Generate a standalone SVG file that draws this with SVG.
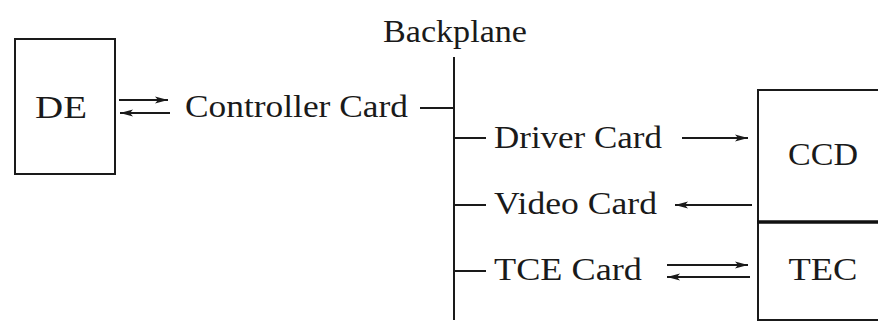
<svg xmlns="http://www.w3.org/2000/svg" width="878" height="323" viewBox="0 0 878 323">
<style>
text{font-family:"Liberation Serif","Times New Roman",serif;font-size:31px;fill:#1a1a1a}
.ln{stroke:#1a1a1a;stroke-width:2;fill:none}
.bx{stroke:#1a1a1a;stroke-width:2;fill:#fff}
</style>
<defs>
<marker id="ah" markerWidth="14" markerHeight="10" refX="13" refY="5" orient="auto" markerUnits="userSpaceOnUse">
<path d="M0,1.5 L13,5 L0,8.5 L3,5 Z" fill="#1a1a1a"/>
</marker>
</defs>
<rect width="878" height="323" fill="#fff"/>
<g id="DE">
<rect class="bx" x="15" y="39" width="100" height="135"/>
<text x="61" y="118" text-anchor="middle" textLength="52" lengthAdjust="spacingAndGlyphs">DE</text>
</g>
<g id="controller">
<text x="185" y="117" textLength="223" lengthAdjust="spacingAndGlyphs">Controller Card</text>
</g>
<g id="backplane">
<text x="383" y="42" textLength="144" lengthAdjust="spacingAndGlyphs">Backplane</text>
<line class="ln" x1="454" y1="57" x2="454" y2="320"/>
</g>
<g id="driver">
<text x="494" y="148" textLength="168" lengthAdjust="spacingAndGlyphs">Driver Card</text>
</g>
<g id="video">
<text x="494" y="214" textLength="163" lengthAdjust="spacingAndGlyphs">Video Card</text>
</g>
<g id="tce">
<text x="494" y="280" textLength="148" lengthAdjust="spacingAndGlyphs">TCE Card</text>
</g>
<g id="CCD">
<rect class="bx" x="758" y="90" width="140" height="132"/>
<text x="823" y="165" text-anchor="middle" textLength="70" lengthAdjust="spacingAndGlyphs">CCD</text>
</g>
<g id="TEC">
<rect class="bx" x="758" y="222" width="140" height="98"/>
<line x1="757" y1="222" x2="878" y2="222" stroke="#111" stroke-width="3.5"/>
<text x="823" y="280" text-anchor="middle" textLength="69" lengthAdjust="spacingAndGlyphs">TEC</text>
</g>
<g id="connectors">
<line class="ln" x1="119" y1="100" x2="168" y2="100" marker-end="url(#ah)"/>
<line class="ln" x1="170" y1="113" x2="120" y2="113" marker-end="url(#ah)"/>
<line class="ln" x1="420" y1="108" x2="454" y2="108"/>
<line class="ln" x1="454" y1="138" x2="486" y2="138"/>
<line class="ln" x1="454" y1="205" x2="486" y2="205"/>
<line class="ln" x1="454" y1="271" x2="486" y2="271"/>
<line class="ln" x1="682" y1="138" x2="748" y2="138" marker-end="url(#ah)"/>
<line class="ln" x1="752" y1="205" x2="675" y2="205" marker-end="url(#ah)"/>
<line class="ln" x1="667" y1="265" x2="748" y2="265" marker-end="url(#ah)"/>
<line class="ln" x1="750" y1="277" x2="667" y2="277" marker-end="url(#ah)"/>
</g>
</svg>
